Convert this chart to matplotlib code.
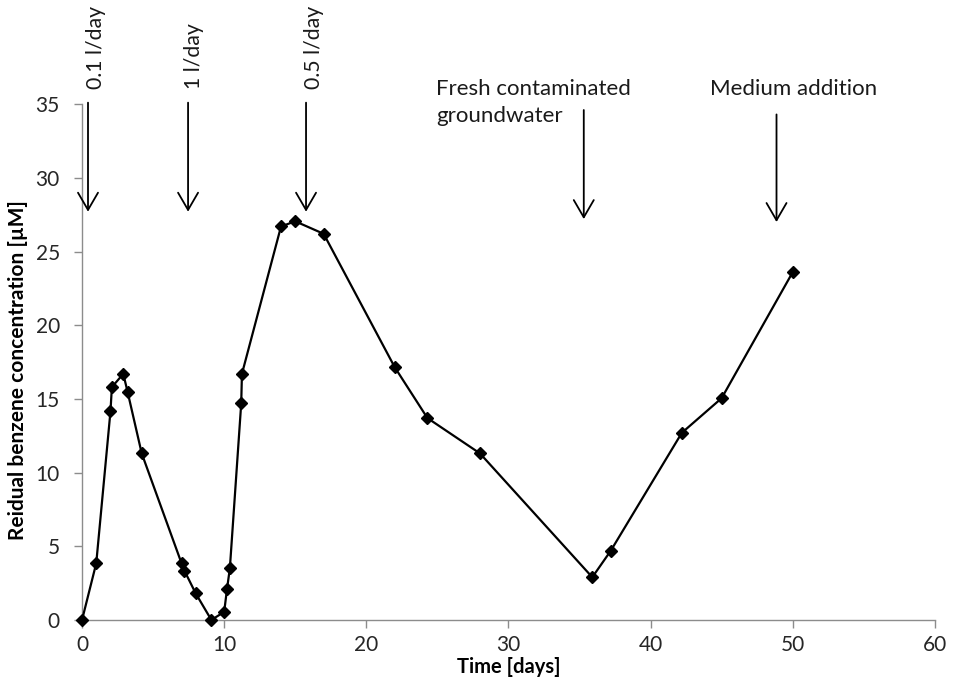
import matplotlib
matplotlib.use("Agg")
import matplotlib.pyplot as plt

plt.rcParams['font.family'] = ['Lato', 'DejaVu Sans']

time_days = [0, 1, 2, 2.1, 2.9, 3.2, 4.2, 7.0, 7.2, 8.0, 9.1, 10.0, 10.2, 10.4,
             11.2, 11.25, 14.0, 15.0, 17.0, 22.0, 24.3, 28.0, 35.9, 37.2, 42.2, 45.0, 50.0]
benzene = [0, 3.85, 14.15, 15.8, 16.7, 15.5, 11.3, 3.85, 3.35, 1.8, 0, 0.55, 2.1, 3.5,
           14.7, 16.7, 26.7, 27.05, 26.2, 17.15, 13.7, 11.3, 2.9, 4.7, 12.7, 15.05, 23.6]

arrow_x = [0.42, 7.46, 15.76, 35.3, 48.86]
arrow_top = [35.1, 35.1, 35.1, 34.6, 34.3]
arrow_bottom = [27.7, 27.7, 27.7, 27.2, 27.0]

rate_labels = ["0.1 l/day", "1 l/day", "0.5 l/day"]
rate_label_x = [0.95, 7.85, 16.3]
event_labels = ["Fresh contaminated\ngroundwater", "Medium addition"]
event_label_x = [24.9, 44.2]

x_ticks = [0, 10, 20, 30, 40, 50, 60]
y_ticks = [0, 5, 10, 15, 20, 25, 30, 35]

fig = plt.figure(figsize=(9.55, 6.81), dpi=100)
ax = fig.add_axes([0.0859, 0.0896, 0.893, 0.7575])

ax.plot(time_days, benzene, color='black', lw=1.6, marker='D', markersize=6.3,
        markerfacecolor='black', markeredgecolor='black', clip_on=False, zorder=3)

ax.set_xlim(0, 60)
ax.set_ylim(0, 35)
ax.set_xticks(x_ticks)
ax.set_yticks(y_ticks)
ax.tick_params(axis='both', direction='out', length=6, width=1, color='#8c8c8c',
               labelsize=15, labelcolor='#262626')
ax.tick_params(axis='x', pad=5)
ax.tick_params(axis='y', pad=10)
for s in ['top', 'right']:
    ax.spines[s].set_visible(False)
for s in ['left', 'bottom']:
    ax.spines[s].set_color('#8c8c8c')
    ax.spines[s].set_linewidth(1)

ax.set_xlabel("Time [days]", fontsize=14.5, fontweight='bold')
ax.xaxis.set_label_coords(0.5, -0.1027)
ax.xaxis.label.set_va('baseline')
ax.set_ylabel("Reidual benzene concentration [µM]", fontsize=15, fontweight='bold')
ax.yaxis.set_label_coords(-0.075, 0.485)
ax.yaxis.label.set_va('center')

for xa, yt, yb in zip(arrow_x, arrow_top, arrow_bottom):
    ax.annotate('', xy=(xa, yb), xytext=(xa, yt),
                arrowprops=dict(arrowstyle='->,head_width=0.36,head_length=0.62',
                                mutation_scale=20, lw=1.3, color='black',
                                shrinkA=0, shrinkB=0),
                annotation_clip=False)

for lx, lab in zip(rate_label_x, rate_labels):
    ax.text(lx, 36.0, lab, rotation=90, ha='center', va='bottom', fontsize=15.3,
            color='#1a1a1a', clip_on=False)

for lx, lab in zip(event_label_x, event_labels):
    ax.text(lx, 36.7, lab, ha='left', va='top', fontsize=16, color='#1a1a1a',
            linespacing=1.45, clip_on=False)

fig.savefig("out.png", dpi=100)
